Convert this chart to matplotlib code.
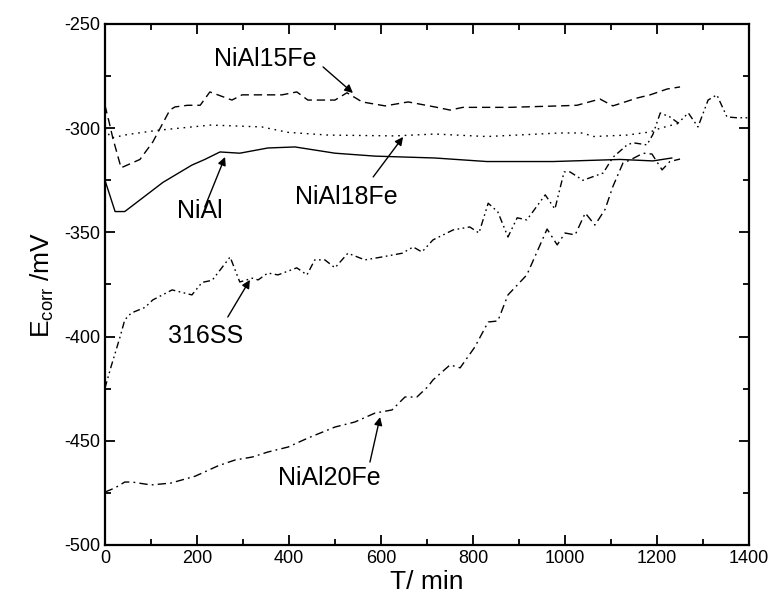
import matplotlib
matplotlib.use("Agg")
import matplotlib.pyplot as plt
from matplotlib.ticker import MultipleLocator

plt.rcParams["font.family"] = ["Liberation Sans", "DejaVu Sans"]
plt.rcParams["mathtext.default"] = "regular"
plt.rcParams["axes.unicode_minus"] = False

# values (T in min, E in mV)
nial_t = [0, 22, 43, 126, 189, 217, 250, 293, 354, 413, 500, 587, 717, 830, 974, 1120, 1191, 1232]
nial_e = [-325, -340, -340, -326, -317.7, -315, -311.4, -312, -309.5, -309, -312, -313.4, -314.3, -316, -316, -315, -315.7, -314.3]

nial15_t = [0, 10, 17, 35, 76, 104, 141, 152, 180, 207, 228, 276, 298, 385, 417, 441, 500, 526, 559,
            609, 659, 717, 750, 778, 880, 909, 989, 1026, 1076, 1104, 1157, 1185, 1222, 1250]
nial15_e = [-289, -298, -304.7, -319, -315, -306.6, -291.3, -289.8, -289, -289, -282.6, -286.5, -284, -284,
            -282.6, -286.5, -286.5, -283, -287.4, -289.3, -287.4, -289.8, -291.3, -290, -290, -289.8,
            -289.3, -289, -286, -289.3, -285.5, -284, -281.2, -280.2]

nial18_t = [0, 13, 50, 115, 230, 341, 398, 485, 630, 717, 830, 989, 1039, 1061, 1135, 1185, 1207, 1250]
nial18_e = [-300, -304.7, -303, -301, -298.5, -299.4, -302, -303.3, -303.7, -302.8, -304, -302.3, -302.3,
            -304, -303.3, -301.8, -300, -297.5]

ss316_t = [0, 13, 33, 43, 57, 87, 104, 146, 189, 211, 233, 272, 293, 320, 333, 354, 376, 417, 439, 456,
           478, 500, 528, 565, 602, 646, 670, 689, 713, 757, 793, 813, 833, 854, 876, 896, 917, 957, 978,
           998, 1011, 1039, 1083, 1104, 1135, 1148, 1178, 1191, 1207, 1228, 1246, 1268, 1289, 1311, 1330,
           1352, 1374, 1398]
ss316_e = [-424.7, -414.6, -400, -392, -388.7, -386, -382.4, -377.6, -380, -374, -373, -361.8, -373.8, -372,
           -372.8, -369.5, -370.4, -367, -370.4, -363.2, -363.2, -367, -360, -363.2, -361.8, -360, -357,
           -359.4, -353.6, -348.8, -347.4, -350.3, -336, -340.2, -352.2, -343, -344, -332, -338.8, -321,
           -321, -325, -321.5, -314, -308, -307, -308, -303, -292.7, -294.6, -297.5, -292.7, -299.4,
           -286.5, -284, -294.6, -295, -295]

nial20_t = [0, 22, 43, 59, 100, 143, 196, 246, 283, 320, 354, 398, 441, 500, 543, 587, 624, 652, 678,
            702, 713, 750, 772, 804, 833, 854, 876, 917, 939, 961, 983, 1000, 1022, 1044, 1065, 1087,
            1104, 1126, 1141, 1170, 1189, 1211, 1228, 1250]
nial20_e = [-474.6, -472.6, -469.8, -469.8, -471.2, -470.3, -467, -462, -459.2, -457.8, -455.4, -453,
            -448.7, -443.4, -441, -436.7, -435.2, -429, -429, -424, -420.8, -413.6, -415, -405, -393,
            -392.5, -380, -370.4, -359.4, -348.4, -356, -350.3, -351.2, -340.7, -346.5, -339, -328,
            -316.7, -315.3, -312, -312.4, -320, -316, -314.8]

# label text, text position, arrow tail and head
labels = ["NiAl15Fe", "NiAl18Fe", "NiAl", "316SS", "NiAl20Fe"]
label_xy = [(348, -267), (524, -333), (207, -339.7), (218, -399.7), (487, -467.8)]
arrow_tail = [(474, -270.6), (583, -323.4), (217, -337.8), (267, -390.6), (576, -460.2)]
arrow_head = [(539, -283.1), (648, -304.2), (261, -313.8), (315, -372.8), (598, -438.6)]

fig = plt.figure(figsize=(7.73, 6.06), dpi=100)
ax = fig.add_axes([0.1358, 0.1007, 0.8332, 0.8597])

lw = 1.0
ax.plot(nial_t, nial_e, color="black", linewidth=lw, linestyle="-")
ax.plot(nial15_t, nial15_e, color="black", linewidth=lw, linestyle=(0, (6, 3.5)))
ax.plot(nial18_t, nial18_e, color="black", linewidth=lw, linestyle=(0, (1.2, 3.5)))
ax.plot(ss316_t, ss316_e, color="black", linewidth=lw, linestyle=(0, (5, 2.5, 1.2, 2.5, 1.2, 2.5)))
ax.plot(nial20_t, nial20_e, color="black", linewidth=lw, linestyle=(0, (6, 3, 1.3, 3)))

for txt, (tx, ty), tail, head in zip(labels, label_xy, arrow_tail, arrow_head):
    ax.text(tx, ty, txt, fontsize=18, ha="center", va="center")
    ax.annotate("", xy=head, xytext=tail,
                arrowprops=dict(arrowstyle="-|>", color="black", lw=1.0,
                                mutation_scale=12, shrinkA=0, shrinkB=0))

ax.set_xlim(0, 1400)
ax.set_ylim(-500, -250)
ax.xaxis.set_major_locator(MultipleLocator(200))
ax.xaxis.set_minor_locator(MultipleLocator(100))
ax.yaxis.set_major_locator(MultipleLocator(50))
ax.yaxis.set_minor_locator(MultipleLocator(25))
ax.tick_params(which="both", direction="in", top=True, right=True, labelsize=13, width=1.3)
ax.tick_params(which="major", length=7)
ax.tick_params(which="minor", length=4)
for s in ax.spines.values():
    s.set_linewidth(1.6)

ax.set_xlabel("T/ min", fontsize=19, labelpad=2)
ax.set_ylabel("E$_{corr}$ /mV", fontsize=19, labelpad=6)

fig.savefig("out.png", dpi=100)
